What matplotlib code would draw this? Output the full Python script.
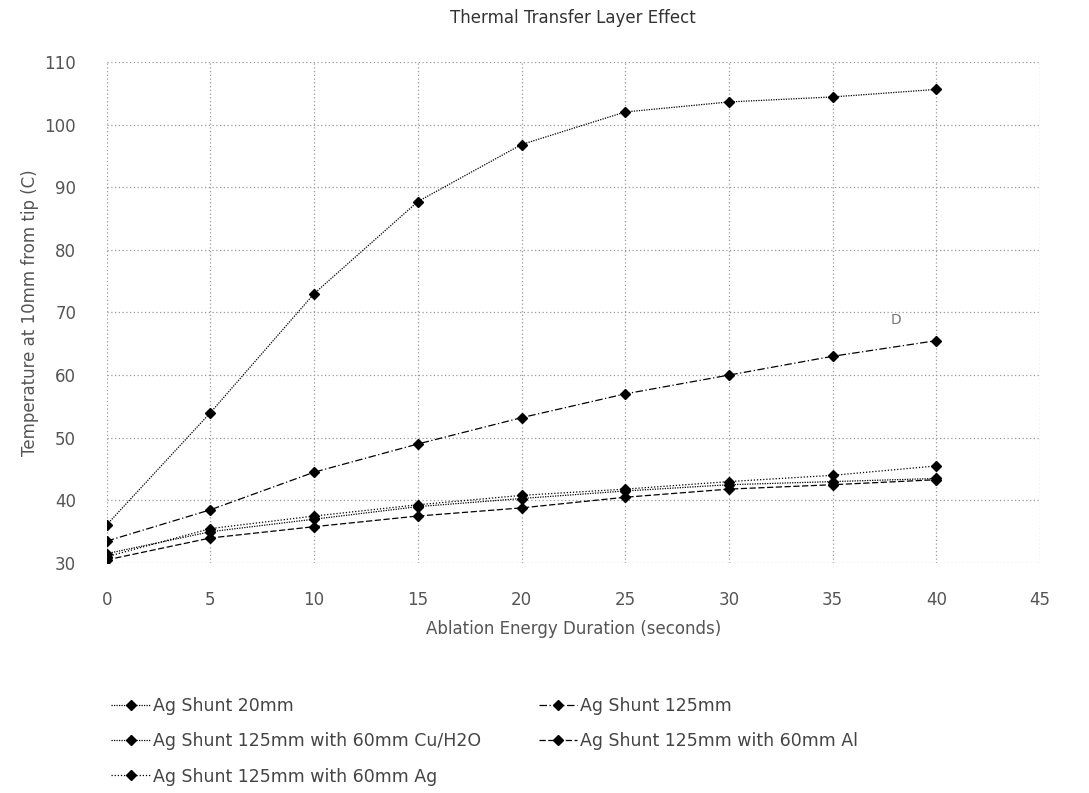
import matplotlib
matplotlib.use("Agg")
import matplotlib.pyplot as plt

duration = [0, 5, 10, 15, 20, 25, 30, 35, 40]
ag_20mm = [36.1, 54.0, 73.0, 87.7, 96.8, 102.0, 103.6, 104.4, 105.6]
ag_125mm = [33.5, 38.5, 44.5, 49.0, 53.2, 57.0, 60.0, 63.0, 65.5]
ag_125_cu = [31.5, 35.0, 37.0, 39.0, 40.3, 41.5, 42.5, 43.0, 43.5]
ag_125_al = [30.5, 34.0, 35.8, 37.5, 38.8, 40.5, 41.8, 42.5, 43.3]
ag_125_ag = [31.0, 35.5, 37.5, 39.3, 40.8, 41.8, 43.0, 44.0, 45.5]

labels = ["Ag Shunt 20mm", "Ag Shunt 125mm",
          "Ag Shunt 125mm with 60mm Cu/H2O", "Ag Shunt 125mm with 60mm Al",
          "Ag Shunt 125mm with 60mm Ag"]

fig = plt.figure(figsize=(10.89, 7.93), dpi=100)
ax = fig.add_axes([0.098, 0.290, 0.857, 0.632])

kw = dict(color="black", marker="D", markersize=5, linewidth=0.9)
h0, = ax.plot(duration, ag_20mm, linestyle=(0, (1, 1)), label=labels[0], **kw)
h1, = ax.plot(duration, ag_125mm, linestyle=(0, (6, 2, 1, 2)), label=labels[1], **kw)
h2, = ax.plot(duration, ag_125_cu, linestyle=(0, (1, 1)), label=labels[2], **kw)
h3, = ax.plot(duration, ag_125_al, linestyle=(0, (5, 2)), label=labels[3], **kw)
h4, = ax.plot(duration, ag_125_ag, linestyle=(0, (1, 1.5)), label=labels[4], **kw)

ax.text(37.8, 68.2, "D", fontsize=10, color="#777777")

ax.set_xlim(0, 45)
ax.set_ylim(30, 110)
ax.set_xticks(range(0, 46, 5))
ax.set_yticks(range(30, 111, 10))
ax.grid(True, color="#999999", linestyle=(0, (1, 2)), linewidth=0.9)
for s in ax.spines.values():
    s.set_visible(False)
ax.tick_params(length=0, labelsize=12, colors="#555555")
ax.tick_params(axis="x", pad=20)
ax.tick_params(axis="y", pad=22)
ax.set_xlabel("Ablation Energy Duration (seconds)", fontsize=12, color="#555555", labelpad=8)
ax.set_ylabel("Temperature at 10mm from tip (C)", fontsize=12, color="#555555", labelpad=4)
ax.set_title("Thermal Transfer Layer Effect", fontsize=12, color="#333333", pad=28)

# matplotlib fills legend columns first, so reorder to read row-wise
handles = [h0, h2, h4, h1, h3]
fig.legend(handles, [h.get_label() for h in handles],
           loc="upper left", bbox_to_anchor=(0.088, 0.141), ncol=2, frameon=False,
           fontsize=12.5, labelcolor="#444444", handlelength=2.2, handletextpad=0.2,
           columnspacing=3.3, labelspacing=1.0)

fig.savefig("out.png", dpi=100)
